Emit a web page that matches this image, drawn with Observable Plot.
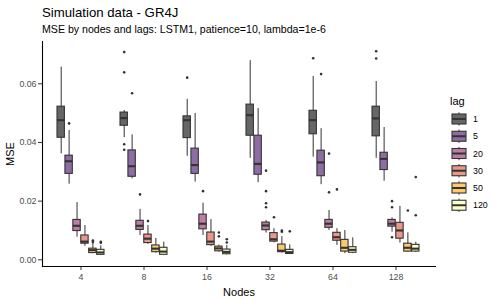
<!DOCTYPE html>
<html>
<head>
<meta charset="utf-8">
<script src="https://cdn.jsdelivr.net/npm/d3@7"></script>
<script src="https://cdn.jsdelivr.net/npm/@observablehq/plot@0.6"></script>
<style>
  body { margin: 0; background: #fff; }
  #wrap { position: relative; width: 500px; height: 300px; font-family: "Liberation Sans", Arial, sans-serif; overflow: hidden; }
  #title { position: absolute; left: 42px; top: 6.1px; font-size: 13.2px; line-height: 1; color: #000; white-space: nowrap; }
  #subtitle { position: absolute; left: 42px; top: 24.3px; font-size: 10.6px; line-height: 1; color: #000; white-space: nowrap; }
  #chart { position: absolute; left: 0; top: 38px; }
  #legend { position: absolute; left: 440px; top: 88px; }
  #chart g[aria-label="y-axis tick label"], #chart g[aria-label="x-axis tick label"] { fill: #4d4d4d; }
  #chart g[aria-label="y-axis label"], #chart g[aria-label="x-axis label"] { fill: #000; font-size: 11px; }
</style>
</head>
<body>
<div id="wrap">
  <div id="title">Simulation data - GR4J</div>
  <div id="subtitle">MSE by nodes and lags: LSTM1, patience=10, lambda=1e-6</div>
  <div id="chart"></div>
  <div id="legend"></div>
</div>
<script>
// ---- data ----
const nodes = [4, 8, 16, 32, 64, 128];
const lags = [1, 5, 20, 30, 50, 120];
const lagColors = ["#666668", "#8e6ca4", "#be7da4", "#eb9789", "#fdc96c", "#fdffc8"];
const yTicks = [0, 0.02, 0.04, 0.06];

// box statistics, node-major, lag-minor (6 x 6)
const whiskerLow = [
  0.0361, 0.0258, 0.0077, 0.0046, 0.0021, 0.0015,
  0.0416, 0.0276, 0.0083, 0.0053, 0.0023, 0.0015,
  0.0353, 0.0265, 0.0083, 0.0046, 0.0026, 0.0017,
  0.0346, 0.0263, 0.0091, 0.0058, 0.0023, 0.0018,
  0.0350, 0.0256, 0.0100, 0.0049, 0.0021, 0.0021,
  0.0346, 0.0268, 0.0094, 0.0057, 0.0026, 0.0025
];
const quart1 = [
  0.0416, 0.0293, 0.0098, 0.0055, 0.0023, 0.0017,
  0.0457, 0.0283, 0.0102, 0.0057, 0.0026, 0.0017,
  0.0415, 0.0293, 0.0104, 0.0050, 0.0029, 0.0019,
  0.0423, 0.0290, 0.0101, 0.0062, 0.0026, 0.0020,
  0.0428, 0.0285, 0.0109, 0.0065, 0.0028, 0.0024,
  0.0421, 0.0306, 0.0113, 0.0072, 0.0028, 0.0028
];
const medians = [
  0.0476, 0.0336, 0.0116, 0.0062, 0.0033, 0.0025,
  0.0483, 0.0319, 0.0116, 0.0072, 0.0038, 0.0028,
  0.0476, 0.0323, 0.0123, 0.0062, 0.0039, 0.0027,
  0.0493, 0.0327, 0.0117, 0.0070, 0.0031, 0.0026,
  0.0476, 0.0332, 0.0123, 0.0077, 0.0041, 0.0034,
  0.0482, 0.0344, 0.0123, 0.0100, 0.0041, 0.0038
];
const quart3 = [
  0.0522, 0.0355, 0.0136, 0.0083, 0.0038, 0.0034,
  0.0502, 0.0373, 0.0133, 0.0086, 0.0049, 0.0041,
  0.0489, 0.0379, 0.0154, 0.0093, 0.0045, 0.0035,
  0.0529, 0.0423, 0.0127, 0.0091, 0.0052, 0.0034,
  0.0508, 0.0372, 0.0136, 0.0092, 0.0068, 0.0043,
  0.0522, 0.0365, 0.0136, 0.0126, 0.0055, 0.0051
];
const whiskerHigh = [
  0.0657, 0.0441, 0.0195, 0.0117, 0.0057, 0.0048,
  0.0509, 0.0426, 0.0172, 0.0117, 0.0073, 0.0060,
  0.0547, 0.0499, 0.0193, 0.0137, 0.0050, 0.0049,
  0.0679, 0.0516, 0.0134, 0.0106, 0.0079, 0.0051,
  0.0625, 0.0447, 0.0168, 0.0106, 0.0100, 0.0075,
  0.0608, 0.0451, 0.0143, 0.0182, 0.0092, 0.0060
];
// outliers
const outlierNode = [4, 4, 4, 4, 4, 8, 8, 8, 8, 8, 8, 8, 16, 16, 16, 16, 16, 16,
  32, 32, 32, 32, 32, 32, 32, 32, 64, 64, 64, 64, 64, 128, 128, 128, 128, 128, 128, 128, 128];
const outlierLag = [5, 50, 50, 120, 120, 1, 1, 1, 1, 5, 20, 30, 1, 20, 50, 50, 120, 120,
  20, 20, 20, 20, 30, 50, 50, 120, 1, 5, 20, 20, 30, 1, 1, 20, 20, 20, 50, 120, 120];
const outlierMSE = [0.0465, 0.0066, 0.0061, 0.0061, 0.0058,
  0.0708, 0.0639, 0.0394, 0.0375, 0.0568, 0.0223, 0.0132,
  0.0621, 0.0234, 0.0093, 0.0080, 0.0070, 0.0059,
  0.0304, 0.0234, 0.0193, 0.0179, 0.0145, 0.0100, 0.0096, 0.0097,
  0.0687, 0.0633, 0.0362, 0.0230, 0.0240,
  0.0711, 0.0686, 0.0200, 0.0179, 0.0077, 0.0168, 0.0152, 0.0282];

// ---- tables ----
const boxes = nodes.flatMap((node, i) => lags.map((lag, j) => {
  const k = i * lags.length + j;
  return { node, lag, lo: whiskerLow[k], q1: quart1[k], med: medians[k], q3: quart3[k], hi: whiskerHigh[k] };
}));
const outliers = outlierMSE.map((mse, k) => ({ node: outlierNode[k], lag: outlierLag[k], mse }));

// ---- layout ----
const W = 500, H = 262, ML = 42, MR = 65, MT = 3, MB = 34;
const padInner = 0.25, padOuter = 0.225;
const step = (W - ML - MR) / (nodes.length - padInner + 2 * padOuter);
const band = step * (1 - padInner);
const sub = band / lags.length;
const ink = "#333333";

const boxMarks = lags.flatMap((lag, j) => {
  const b = boxes.filter(d => d.lag === lag);
  const o = outliers.filter(d => d.lag === lag);
  const dx = (j - (lags.length - 1) / 2) * sub;
  const il = j * sub, ir = (lags.length - 1 - j) * sub;
  return [
    Plot.ruleX(b, { x: "node", y1: "lo", y2: "hi", dx, stroke: ink, strokeWidth: 1 }),
    Plot.barY(b, { x: "node", y1: "q1", y2: "q3", insetLeft: il, insetRight: ir, fill: "lag", stroke: ink, strokeWidth: 1.1 }),
    Plot.tickY(b, { x: "node", y: "med", insetLeft: il, insetRight: ir, stroke: ink, strokeWidth: 2.1 }),
    Plot.dot(o, { x: "node", y: "mse", dx, r: 1.3, fill: ink, stroke: "none" })
  ];
});

const chart = Plot.plot({
  width: W, height: H,
  marginLeft: ML, marginRight: MR, marginTop: MT, marginBottom: MB,
  style: { fontFamily: "Liberation Sans, Arial, sans-serif", fontSize: "8.8px", color: ink, background: "white" },
  x: { domain: nodes, paddingInner: padInner, paddingOuter: padOuter, label: "Nodes", labelAnchor: "center", labelOffset: 29, tickSize: 4, tickPadding: 3 },
  y: { domain: [-0.00228, 0.07442], ticks: yTicks, tickFormat: d3.format(".2f"), label: "MSE", labelAnchor: "center", labelOffset: 36, labelArrow: "none", tickSize: 4, tickPadding: 2 },
  color: { type: "ordinal", domain: lags, range: lagColors },
  marks: [
    ...boxMarks,
    Plot.frame({ anchor: "left", stroke: "#000", strokeWidth: 1.1 }),
    Plot.frame({ anchor: "bottom", stroke: "#000", strokeWidth: 1.1 })
  ]
});
document.getElementById("chart").appendChild(chart);

// ---- legend (box-glyph keys) ----
const lg = d3.select("#legend").append("svg").attr("width", 60).attr("height", 130)
  .style("font-family", "Liberation Sans, Arial, sans-serif");
lg.append("text").attr("x", 10).attr("y", 17).attr("font-size", 11).attr("fill", "#000").text("lag");
const key = lg.selectAll("g.key").data(lags).join("g")
  .attr("transform", (d, i) => `translate(0, ${31 + i * 17.25})`);
key.append("line").attr("x1", 19).attr("x2", 19).attr("y1", -6.7).attr("y2", 6.7).attr("stroke", ink).attr("stroke-width", 1);
key.append("rect").attr("x", 12).attr("y", -5).attr("width", 14).attr("height", 10)
  .attr("fill", (d, i) => lagColors[i]).attr("stroke", ink).attr("stroke-width", 1.1);
key.append("line").attr("x1", 12).attr("x2", 26).attr("y1", 0).attr("y2", 0).attr("stroke", ink).attr("stroke-width", 2);
key.append("text").attr("x", 33).attr("y", 3.2).attr("font-size", 8.8).attr("fill", "#000").text(d => d);
</script>
</body>
</html>
